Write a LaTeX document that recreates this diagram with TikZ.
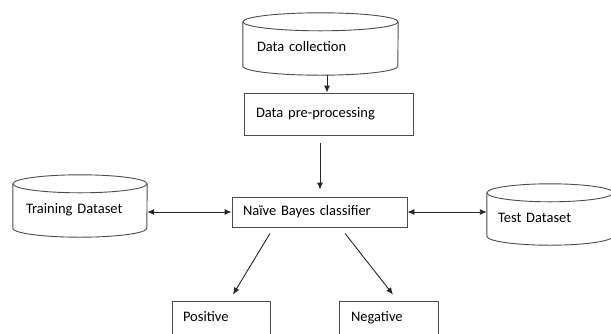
\documentclass[tikz,border=0pt]{standalone}
\usepackage{fontspec}
\setmainfont{Carlito}
\usetikzlibrary{arrows.meta,calc}
\newcommand\drawcyl[3]{%
  \draw[cylline] ($(#1.north)+(0,#3)$) ellipse [x radius=#2pt, y radius=#3pt];
  \draw[cylline] ($(#1.north west)+(0,#3)$) -- ($(#1.south west)+(0,-#3)$)
    arc[start angle=180, end angle=360, x radius=#2pt, y radius=#3pt]
    -- ($(#1.north east)+(0,#3)$);
}
\begin{document}
\begin{tikzpicture}[x=1pt,y=-1pt,
  txt/.style={font=\fontsize{14.5}{17}\selectfont, align=left, inner ysep=0pt},
  box/.style={txt, draw=black!70, line width=0.9pt, rectangle, text height=10pt, text depth=3pt},
  cyl/.style={txt, rectangle, text height=18pt, text depth=3pt},
  cylline/.style={draw=black!70, line width=0.9pt},
  arr/.style={draw=black!85, line width=0.9pt, -{Latex[length=7pt,width=6pt]}},
  darr/.style={draw=black!85, line width=0.9pt, {Latex[length=7pt,width=6pt]}-{Latex[length=7pt,width=6pt]}}
]
\useasboundingbox (0,0) rectangle (611,333);
\clip (0,0) rectangle (611,333);

% cylinders (invisible nodes carry the text and anchors)
\node[cyl, minimum width=155pt, minimum height=62pt, inner xsep=14pt, text width=127pt] (dc) at (320.5,44) {Data collection};
\node[cyl, minimum width=134pt, minimum height=62pt, inner xsep=13pt, text width=108pt] (train) at (80,206) {Training Dataset};
\node[cyl, minimum width=126pt, minimum height=61pt, inner xsep=11pt, text width=104pt] (test) at (550,214.5) {Test Dataset};
\drawcyl{dc}{77.5}{9}
\drawcyl{train}{67}{9}
\drawcyl{test}{63}{9}

% boxes
\node[box, minimum width=169pt, minimum height=42pt, inner xsep=12pt, text width=145pt] (pre) at (328.5,114) {Data pre-processing};
\node[box, minimum width=175pt, minimum height=30pt, inner xsep=11pt, text width=153pt] (nb) at (319.5,212) {Naïve Bayes classifier};
\node[box, minimum width=98pt, minimum height=34pt, inner xsep=11pt, text width=76pt] (pos) at (221,318) {Positive};
\node[box, minimum width=99pt, minimum height=34pt, inner xsep=12pt, text width=75pt] (neg) at (388.5,318) {Negative};

% connectors
\draw[arr] ([xshift=6.5pt]dc.south) -- ([xshift=-1.5pt]pre.north);
\draw[arr, shorten <=8pt, shorten >=7pt] ([xshift=-8.5pt]pre.south) -- ([xshift=0.5pt]nb.north);
\draw[darr] (train.east |- nb.west) -- (nb.west);
\draw[darr] (nb.east) -- (test.west |- nb.east);
\draw[arr] ([shift={(-49.5,6)}]nb.south) -- ([shift={(12,-6)}]pos.north);
\draw[arr] ([shift={(25.5,6)}]nb.south) -- ([shift={(4.5,-6)}]neg.north);
\end{tikzpicture}
\end{document}
